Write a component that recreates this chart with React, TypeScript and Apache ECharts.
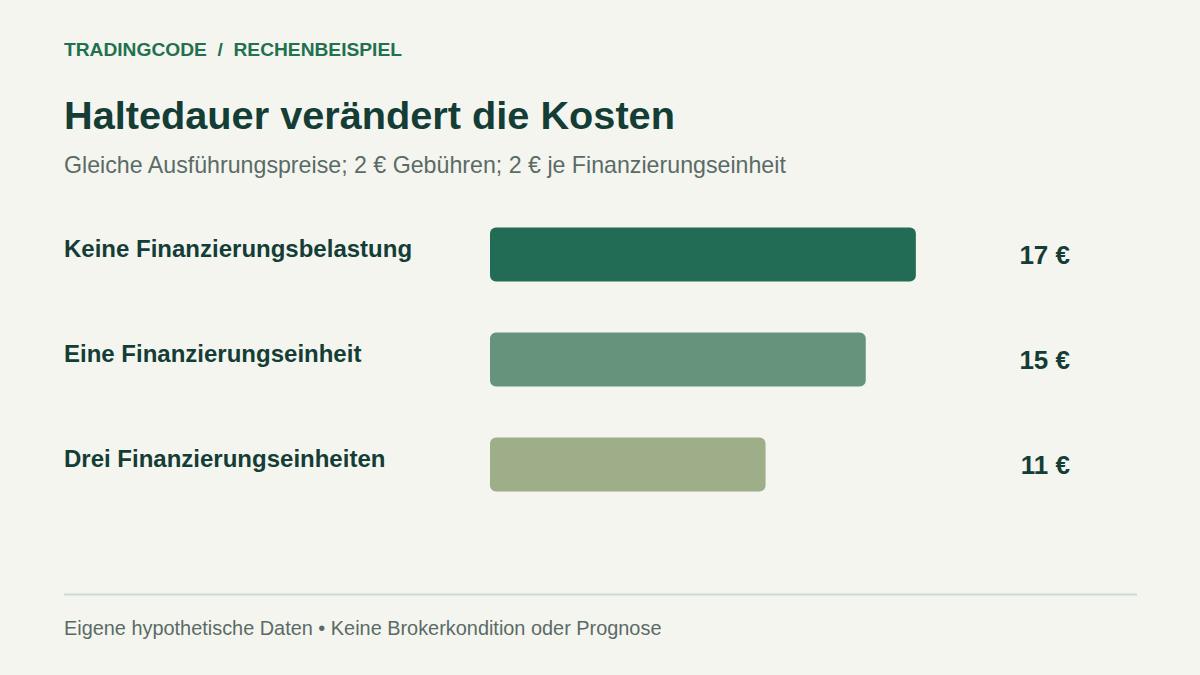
import React, { useEffect, useRef } from "react";
import * as echarts from "echarts";

const categories = [
  "Keine Finanzierungsbelastung",
  "Eine Finanzierungseinheit",
  "Drei Finanzierungseinheiten",
];
const costs = [17, 15, 11];
const barColors = ["#226B54", "#66937C", "#9DAE89"];

const FONT = "'Liberation Sans', Arial, sans-serif";

const App = () => {
  const chartRef = useRef<HTMLDivElement>(null);

  useEffect(() => {
    const chart = echarts.init(chartRef.current, null, { renderer: "svg" });

    const option = {
      animation: false,
      backgroundColor: "#F5F5F0",
      textStyle: { fontFamily: FONT },
      grid: { left: 490, right: 209, top: 202, height: 315 },
      xAxis: {
        type: "value",
        min: 0,
        max: 20,
        show: false,
      },
      yAxis: [
        {
          type: "category",
          inverse: true,
          data: categories,
          axisLine: { show: false },
          axisTick: { show: false },
          axisLabel: {
            align: "left",
            verticalAlign: "bottom",
            lineHeight: 12,
            margin: 426,
            color: "#143D36",
            fontSize: 24,
            fontWeight: "bold",
            fontFamily: FONT,
          },
        },
        {
          type: "category",
          inverse: true,
          position: "right",
          data: costs.map((v) => `${v} €`),
          axisLine: { show: false },
          axisTick: { show: false },
          axisLabel: {
            align: "right",
            margin: 79,
            color: "#143D36",
            fontSize: 26,
            fontWeight: "bold",
            fontFamily: FONT,
          },
        },
      ],
      series: [
        {
          type: "bar",
          yAxisIndex: 0,
          barWidth: 54,
          data: costs.map((v, i) => ({
            value: v,
            itemStyle: { color: barColors[i], borderRadius: 6 },
          })),
        },
      ],
      graphic: [
        {
          type: "text",
          x: 64,
          y: 49,
          style: {
            text: "TRADINGCODE  /  RECHENBEISPIEL",
            fill: "#22704F",
            font: `bold 19.2px ${FONT}`,
            verticalAlign: "middle",
          },
        },
        {
          type: "text",
          x: 64,
          y: 115,
          style: {
            text: "Haltedauer verändert die Kosten",
            fill: "#143D36",
            font: `bold 39.7px ${FONT}`,
            verticalAlign: "middle",
          },
        },
        {
          type: "text",
          x: 64,
          y: 165,
          style: {
            text: "Gleiche Ausführungspreise; 2 € Gebühren; 2 € je Finanzierungseinheit",
            fill: "#5A6B66",
            font: `23.2px ${FONT}`,
            verticalAlign: "middle",
          },
        },
        {
          type: "line",
          shape: { x1: 64, y1: 594.5, x2: 1137, y2: 594.5 },
          style: { stroke: "#CDD9D2", lineWidth: 2 },
        },
        {
          type: "text",
          x: 64,
          y: 628,
          style: {
            text: "Eigene hypothetische Daten • Keine Brokerkondition oder Prognose",
            fill: "#5A6B66",
            font: `19.9px ${FONT}`,
            verticalAlign: "middle",
          },
        },
      ],
    };

    chart.setOption(option);

    return () => {
      chart.dispose();
    };
  }, []);

  return (
    <div
      ref={chartRef}
      style={{ position: "fixed", left: 0, top: 0, width: 1200, height: 675 }}
    />
  );
};

export default App;
